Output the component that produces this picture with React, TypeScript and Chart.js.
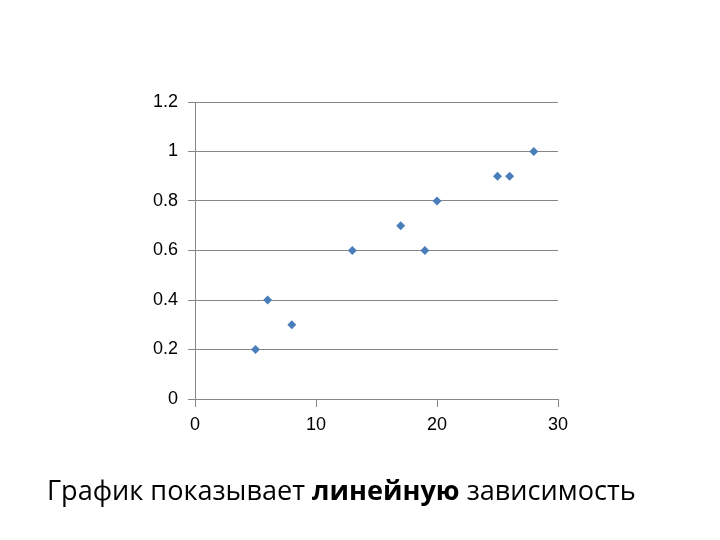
import React, { useEffect, useRef } from "react";
import { Chart, registerables } from "chart.js";

Chart.register(...registerables);

const xValues = [5, 6, 8, 13, 17, 19, 20, 25, 26, 28];
const yValues = [0.2, 0.4, 0.3, 0.6, 0.7, 0.6, 0.8, 0.9, 0.9, 1.0];
const xTicks = [0, 10, 20, 30];
const yTicks = [0, 0.2, 0.4, 0.6, 0.8, 1, 1.2];
const captionStart = "График показывает ";
const captionBold = "линейную";
const captionEnd = " зависимость";

export default function App() {
  const ref = useRef<HTMLCanvasElement | null>(null);

  useEffect(() => {
    if (!ref.current) return;
    const chart = new Chart(ref.current, {
      type: "scatter",
      data: {
        datasets: [
          {
            data: xValues.map((x, i) => ({ x, y: yValues[i] })),
            pointStyle: "rectRot",
            pointRadius: 4.5,
            pointBackgroundColor: "#4A7EBB",
            pointBorderColor: "#4A7EBB",
            pointBorderWidth: 0,
          },
        ],
      },
      options: {
        animation: false,
        responsive: false,
        layout: { padding: { left: 0, top: 102, right: 162, bottom: 0 } },
        plugins: { legend: { display: false }, tooltip: { enabled: false } },
        scales: {
          x: {
            type: "linear",
            min: 0,
            max: 30,
            afterBuildTicks: (s: any) => {
              s.ticks = xTicks.map((v) => ({ value: v }));
            },
            afterFit: (s: any) => {
              s.height = 141;
            },
            grid: {
              display: true,
              drawOnChartArea: false,
              drawTicks: true,
              tickLength: 8,
              color: "#868686",
            },
            border: { display: true, color: "#868686", width: 1 },
            ticks: {
              color: "#000",
              padding: 7,
              maxRotation: 0,
              font: { family: "'Liberation Sans', Arial, sans-serif", size: 18 },
            },
          },
          y: {
            type: "linear",
            min: 0,
            max: 1.2,
            afterBuildTicks: (s: any) => {
              s.ticks = yTicks.map((v) => ({ value: v }));
            },
            afterFit: (s: any) => {
              s.width = 195;
            },
            grid: {
              display: true,
              drawTicks: true,
              tickLength: 7,
              color: "#868686",
            },
            border: { display: true, color: "#868686", width: 1 },
            ticks: {
              color: "#000",
              padding: 10,
              callback: (v: any) => String(Math.round(Number(v) * 10) / 10),
              font: { family: "'Liberation Sans', Arial, sans-serif", size: 18 },
            },
          },
        },
      },
    });
    return () => chart.destroy();
  }, []);

  return (
    <div style={{ position: "absolute", left: 0, top: 0, width: 720, height: 540, background: "#fff" }}>
      <canvas ref={ref} width={720} height={540} style={{ position: "absolute", left: 0, top: 0 }} />
      <div
        style={{
          position: "absolute",
          left: 47,
          top: 471,
          whiteSpace: "nowrap",
          fontFamily: "'Open Sans', sans-serif",
          fontSize: 27.1,
          color: "#000",
        }}
      >
        {captionStart}
        <b>{captionBold}</b>
        {captionEnd}
      </div>
    </div>
  );
}
